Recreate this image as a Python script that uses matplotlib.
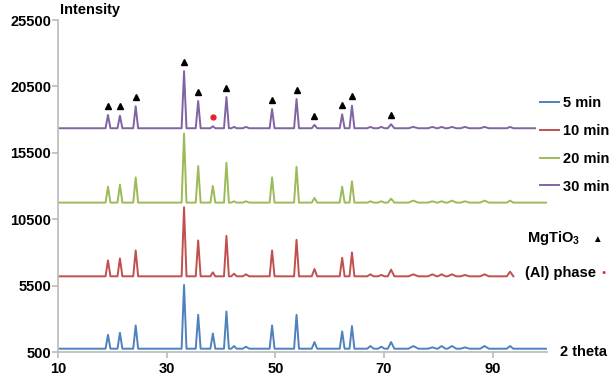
#!/usr/bin/env python3
# plot.py - XRD patterns of MgTiO3 after 5/10/20/30 min milling

import matplotlib

matplotlib.use("Agg")
import matplotlib.pyplot as plt

plt.rcParams["font.family"] = ["Liberation Sans", "DejaVu Sans"]
plt.rcParams["font.weight"] = "bold"
plt.rcParams["mathtext.fontset"] = "custom"
plt.rcParams["mathtext.rm"] = "Liberation Sans:bold"

# peak positions (2 theta) and half width at the foot, shared by all patterns
peak_pos = [19.2, 21.4, 24.3, 33.2, 35.8, 38.5, 41.0, 42.4, 44.6, 49.4, 53.9,
            57.2, 62.3, 64.1, 67.5, 69.5, 71.3, 75.4, 78.9, 80.6, 82.5, 84.9,
            88.5, 93.2]
peak_hw = [0.45, 0.45, 0.45, 0.45, 0.45, 0.45, 0.45, 0.5, 0.6, 0.45, 0.45,
           0.5, 0.45, 0.45, 0.6, 0.6, 0.6, 0.9, 0.8, 0.7, 0.8, 0.8,
           0.8, 0.6]

# peak heights above the baseline
h_5 = [1050, 1200, 1750, 4800, 2550, 1150, 2800, 200, 150, 1750, 2550,
       500, 1300, 1700, 200, 150, 500, 200, 100, 200, 200, 100, 200, 200]
h_10 = [1200, 1350, 1950, 5200, 2700, 300, 3050, 200, 150, 1950, 2750,
        550, 1400, 1800, 150, 100, 500, 150, 150, 150, 150, 100, 150, 350]
h_20 = [1200, 1350, 1900, 5200, 2750, 1250, 3000, 100, 100, 1900, 2700,
        350, 1200, 1600, 100, 100, 300, 150, 100, 100, 150, 100, 150, 150]
h_30 = [1000, 950, 1650, 4300, 2050, 150, 2350, 100, 100, 1450, 2200,
        250, 1050, 1700, 100, 100, 300, 100, 100, 100, 100, 100, 100, 100]

# baseline level and where each trace stops
base_5 = 750
base_10 = 6200
base_20 = 11750
base_30 = 17350
end_5 = 100.0
end_10 = 93.8
end_20 = 100.0
end_30 = 97.8

labels = ["5 min", "10 min", "20 min", "30 min"]
colors = ["#4f81bd", "#c0504d", "#9bbb59", "#8064a2"]

# MgTiO3 reflections marked on the 30 min trace, and the (Al) peak
mgtio3_pos = [19.2, 21.4, 24.3, 33.2, 35.8, 41.0, 49.4, 53.9, 57.2, 62.3, 64.1, 71.3]
al_pos = [38.5]
marker_gap = 700


def trace(heights, base, end):
    x = [10.0]
    y = [base]
    for p, w, h in zip(peak_pos, peak_hw, heights):
        if p > end:
            break
        x += [p - w, p, p + w]
        y += [base, base + h, base]
    x.append(end)
    y.append(base)
    return x, y


def main():
    fig = plt.figure(figsize=(6.11, 3.87), dpi=100)
    ax = fig.add_axes([0.0949, 0.0904, 0.8004, 0.8579])

    series = [(h_5, base_5, end_5), (h_10, base_10, end_10),
              (h_20, base_20, end_20), (h_30, base_30, end_30)]
    for (h, b, e), lab, c in zip(series, labels, colors):
        x, y = trace(h, b, e)
        ax.plot(x, y, color=c, lw=1.4, label=lab)

    my = [base_30 + h_30[peak_pos.index(p)] + marker_gap for p in mgtio3_pos]
    ax.plot(mgtio3_pos, my, ls="none", marker="^", color="black", ms=4.5)
    ay = [base_30 + h_30[peak_pos.index(p)] + marker_gap for p in al_pos]
    ax.plot(al_pos, ay, ls="none", marker="o", color="#e8202a", ms=3.5)

    ax.set_xlim(10, 100)
    ax.set_ylim(500, 25500)
    ax.set_xticks([10, 30, 50, 70, 90])
    ax.set_yticks([500, 5500, 10500, 15500, 20500, 25500])

    for s in ["top", "right"]:
        ax.spines[s].set_visible(False)
    for s in ["left", "bottom"]:
        ax.spines[s].set_color("#bfbfbf")
        ax.spines[s].set_linewidth(1.3)
    ax.tick_params(axis="both", colors="#bfbfbf", width=1.3, length=4,
                   labelcolor="black", labelsize=10.5)
    ax.tick_params(axis="y", pad=1)
    ax.tick_params(axis="x", pad=3)

    fig.legend(loc="upper left", bbox_to_anchor=(540 / 611, 1 - 96 / 387),
               frameon=False, borderpad=0, borderaxespad=0,
               handlelength=1.3, handletextpad=0.25, labelspacing=0.95,
               prop={"weight": "bold", "size": 10.5})

    fig.text(60 / 611, 1 - 10 / 387, "Intensity", ha="left", va="center",
             fontsize=10.5, fontweight="bold")
    fig.text(560 / 611, 1 - 352 / 387, "2 theta", ha="left", va="center",
             fontsize=10.5, fontweight="bold")
    fig.text(527 / 611, 1 - 238 / 387, "MgTiO$_3$", ha="left", va="center",
             fontsize=10.5, fontweight="bold")
    fig.text(597 / 611, 1 - 239 / 387, "\u25b2", ha="center", va="center",
             fontsize=7, color="black")
    fig.text(596 / 611, 1 - 273 / 387, "(Al) phase", ha="right", va="center",
             fontsize=10.5, fontweight="bold")
    fig.text(604 / 611, 1 - 273 / 387, "\u25cf", ha="center", va="center",
             fontsize=5, color="#e8202a")

    fig.savefig("out.png", dpi=100)


if __name__ == "__main__":
    main()
